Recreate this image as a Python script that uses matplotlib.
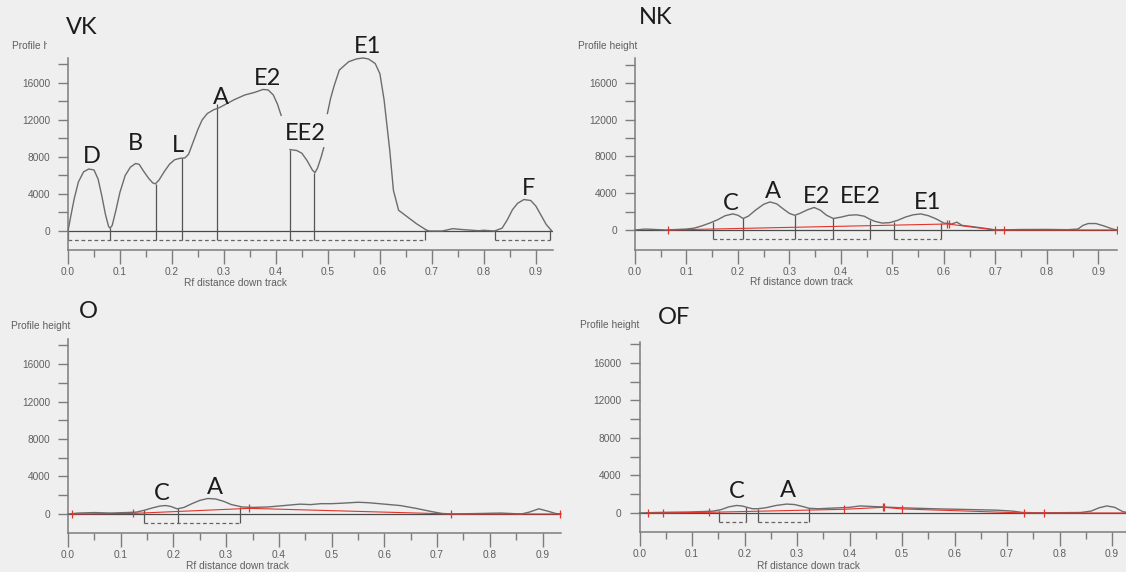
import matplotlib
matplotlib.use("Agg")
import matplotlib.pyplot as plt
import numpy as np
from matplotlib.patches import Rectangle

nan = np.nan

# ---- VK lane ----
vk_x = [0.0, 0.005, 0.012, 0.02, 0.03, 0.04, 0.05, 0.058, 0.065, 0.072, 0.078, 0.081,
        0.085, 0.092, 0.1, 0.11, 0.12, 0.13, 0.137, 0.145, 0.155, 0.163, 0.168, 0.175,
        0.185, 0.195, 0.205, 0.215, 0.225, 0.232, 0.24, 0.25, 0.258, 0.268, 0.28, 0.29,
        0.30, 0.32, 0.34, 0.36, 0.375, 0.385, 0.395, 0.403, 0.41, nan,
        0.427, 0.44, 0.45, 0.46, 0.47, 0.475, 0.48, 0.487, 0.492, nan,
        0.499, 0.505, 0.512, 0.522, 0.54, 0.555, 0.567, 0.578, 0.591, 0.60, 0.608, 0.619,
        0.626, 0.636, 0.653, 0.67, 0.688, 0.695, 0.72, 0.74, 0.76, 0.79, 0.80, 0.82,
        0.835, 0.845, 0.855, 0.865, 0.877, 0.89, 0.90, 0.91, 0.92, 0.93]
vk_y = [0, 1500, 3500, 5300, 6400, 6700, 6600, 5600, 3800, 1800, 500, 300,
        600, 2200, 4200, 6000, 6900, 7300, 7200, 6500, 5700, 5200, 5100, 5500,
        6400, 7200, 7700, 7850, 7900, 8300, 9500, 11000, 12000, 12700, 13100, 13300,
        13600, 14200, 14700, 15000, 15300, 15250, 14700, 13700, 12500, nan,
        8800, 8700, 8400, 7600, 6600, 6300, 6800, 8000, 9000, nan,
        12700, 14300, 15700, 17400, 18300, 18600, 18700, 18600, 18100, 17000, 14200, 8700,
        4400, 2240, 1520, 800, 150, 0, 0, 250, 150, 30, 80, 0,
        300, 1200, 2300, 3000, 3400, 3300, 2700, 1700, 700, 50]
vk_cuts = [0.0, 0.08, 0.169, 0.22, 0.287, 0.427, 0.474, 0.686, 0.821, 0.928]
vk_cut_top = [0, 300, 5100, 7900, 13700, 8800, 6300, 100, 0, 100]
vk_runs = [(0.0, 0.686), (0.821, 0.928)]
vk_names = ["D", "B", "L", "A", "E2", "EE2", "E1", "F"]
vk_name_x = [0.046, 0.13, 0.211, 0.295, 0.383, 0.457, 0.576, 0.886]
vk_name_y = [8020, 9460, 9280, 14450, 16510, 10540, 19930, 4590]

# ---- NK lane ----
nk_x = [0.0, 0.02, 0.04, 0.06, 0.08, 0.1, 0.115, 0.13, 0.145, 0.16, 0.175, 0.19, 0.2,
        0.21, 0.22, 0.235, 0.25, 0.262, 0.275, 0.29, 0.30, 0.31, 0.32, 0.335, 0.348,
        0.36, 0.372, 0.385, 0.40, 0.415, 0.43, 0.445, 0.455, 0.465, 0.48, 0.495, 0.51,
        0.525, 0.54, 0.555, 0.57, 0.585, 0.60, 0.615, 0.625, 0.635, 0.65, 0.67, 0.69,
        0.70, 0.75, 0.80, 0.84, 0.86, 0.87, 0.88, 0.895, 0.91, 0.925, 0.935]
nk_y = [0, 100, 50, 0, 50, 100, 200, 450, 750, 1100, 1550, 1750, 1600,
        1250, 1500, 2200, 2800, 3050, 2850, 2200, 1800, 1600, 1800, 2200, 2450,
        2150, 1600, 1250, 1400, 1600, 1650, 1500, 1200, 950, 750, 800, 1050,
        1400, 1650, 1750, 1550, 1200, 750, 650, 850, 500, 400, 250, 100,
        0, 50, 60, 30, 100, 500, 700, 700, 450, 150, 0]
nk_cuts = [0.152, 0.21, 0.31, 0.384, 0.457, 0.503, 0.594]
nk_cut_top = [900, 1250, 1600, 1300, 1100, 850, 800]
nk_runs = [(0.152, 0.457), (0.503, 0.594)]
nk_base_x = [0.065, 0.606, 0.609, 0.699, 0.716, 0.935]
nk_base_y = [0, 650, 640, 0, 0, 0]
nk_names = ["C", "A", "E2", "EE2", "E1"]
nk_name_x = [0.1855, 0.267, 0.352, 0.438, 0.568]
nk_name_y = [2900, 4170, 3630, 3630, 2975]

# ---- O lane ----
o_x = [0.0, 0.02, 0.05, 0.08, 0.11, 0.13, 0.145, 0.16, 0.175, 0.185, 0.195, 0.207,
       0.22, 0.235, 0.25, 0.265, 0.28, 0.295, 0.31, 0.33, 0.35, 0.38, 0.40, 0.42,
       0.44, 0.46, 0.48, 0.50, 0.52, 0.55, 0.57, 0.60, 0.63, 0.66, 0.69, 0.71, 0.73,
       0.78, 0.82, 0.86, 0.875, 0.893, 0.91, 0.925, 0.935]
o_y = [0, 100, 150, 100, 150, 200, 400, 650, 850, 900, 800, 550,
       700, 1100, 1450, 1650, 1600, 1350, 1000, 750, 700, 750, 850, 950,
       1050, 1000, 1100, 1100, 1150, 1250, 1200, 1050, 900, 600, 250, 50, 0,
       50, 100, 0, 200, 550, 300, 50, 0]
o_cuts = [0.145, 0.208, 0.327]
o_cut_top = [400, 600, 780]
o_runs = [(0.145, 0.327)]
o_base_x = [0.008, 0.123, 0.344, 0.726, 0.933]
o_base_y = [0, 60, 600, 0, 0]
o_names = ["C", "A"]
o_name_x = [0.177, 0.278]
o_name_y = [2200, 2840]

# ---- OF lane ----
of_x = [0.0, 0.03, 0.06, 0.09, 0.12, 0.14, 0.155, 0.17, 0.185, 0.195, 0.205, 0.215,
        0.225, 0.24, 0.26, 0.28, 0.295, 0.31, 0.323, 0.34, 0.36, 0.38, 0.40, 0.42,
        0.44, 0.46, 0.48, 0.50, 0.53, 0.56, 0.60, 0.64, 0.68, 0.71, 0.73, 0.76, 0.80,
        0.84, 0.86, 0.875, 0.89, 0.905, 0.92, 0.935]
of_y = [0, 50, 80, 100, 150, 200, 350, 650, 800, 750, 600, 450,
        450, 550, 800, 950, 900, 700, 500, 450, 500, 550, 600, 750,
        700, 650, 600, 550, 500, 450, 400, 350, 300, 200, 50, 20, 30,
        50, 200, 550, 750, 600, 150, 0]
of_cuts = [0.151, 0.203, 0.225, 0.323]
of_cut_top = [250, 650, 450, 500]
of_runs = [(0.151, 0.203), (0.225, 0.323)]
of_base_x = [0.016, 0.045, 0.132, 0.389, 0.463, 0.466, 0.5, 0.733, 0.771, 0.935]
of_base_y = [0, 0, 70, 390, 600, 600, 430, 0, 0, 0]
of_names = ["C", "A"]
of_name_x = [0.185, 0.282]
of_name_y = [2275, 2350]

W, H = 1126, 572
BG = "#efefef"
GREY_TXT = "#5f5f5f"
BIG = "Lato"
SMALL = "Liberation Sans"

fig = plt.figure(figsize=(W / 100, H / 100), dpi=100, facecolor=BG)


def px(x, y):
    return x / W, 1 - y / H


def panel(left, top, right, bottom, xmax, ylim, xs, ys, cuts, cut_top, runs,
          base_x, base_y, names, name_x, name_y):
    ax = fig.add_axes([left / W, 1 - bottom / H, (right - left) / W, (bottom - top) / H])
    ax.set_facecolor("none")
    ax.set_xlim(0, xmax)
    ax.set_ylim(*ylim)
    for s in ["top", "right"]:
        ax.spines[s].set_visible(False)
    for s in ["left", "bottom"]:
        ax.spines[s].set_color("#7d7d7d")
        ax.spines[s].set_linewidth(1.1)
    ax.axhline(0, color="#4a4a4a", lw=0.9, zorder=1)
    ax.plot(xs, ys, color="#6c6c6c", lw=1.0, zorder=3, clip_on=False)
    if base_x is not None:
        ax.plot(base_x, base_y, color="#e3342c", lw=0.8, marker="|", ms=6, mew=0.9, zorder=4)
    ax.vlines(cuts, -1000, cut_top, color="#555555", lw=0.9, zorder=2)
    for a, b in runs:
        ax.plot([a, b], [-1000, -1000], color="#666666", lw=0.9, ls=(0, (3, 2.2)), zorder=2)
    for n, x, y in zip(names, name_x, name_y):
        ax.text(x, y, n, ha="center", va="center", fontsize=17, family=BIG,
                color="#1c1c1c", clip_on=False, zorder=6)

    xt = np.arange(0, 0.95, 0.1)
    ax.set_xticks(xt)
    ax.set_xticklabels([f"{v:.1f}" for v in xt])
    ax.set_xticks(np.arange(0.05, 0.95, 0.1), minor=True)
    ax.set_yticks([0, 4000, 8000, 12000, 16000])
    ax.set_yticks([2000, 6000, 10000, 14000, 18000], minor=True)
    ax.tick_params(axis="x", which="major", length=10, width=1, color="#7d7d7d",
                   labelsize=7.3, labelcolor=GREY_TXT, pad=2.5)
    ax.tick_params(axis="x", which="minor", length=5, width=1, color="#7d7d7d")
    ax.tick_params(axis="y", which="both", length=7, width=1, color="#7d7d7d",
                   labelsize=7.3, labelcolor=GREY_TXT, pad=6)
    for lab in ax.get_xticklabels() + ax.get_yticklabels():
        lab.set_family(SMALL)
    return ax


panel(68, 58, 553, 250, 0.933, (-2054, 18700), vk_x, vk_y, vk_cuts, vk_cut_top,
      vk_runs, None, None, vk_names, vk_name_x, vk_name_y)
panel(635, 58, 1116.5, 250, 0.935, (-2180, 18720), nk_x, nk_y, nk_cuts, nk_cut_top,
      nk_runs, nk_base_x, nk_base_y, nk_names, nk_name_x, nk_name_y)
panel(68, 339, 561, 533, 0.935, (-2030, 18670), o_x, o_y, o_cuts, o_cut_top,
      o_runs, o_base_x, o_base_y, o_names, o_name_x, o_name_y)
panel(639.5, 342, 1130.5, 532, 0.935, (-2030, 18240), of_x, of_y, of_cuts, of_cut_top,
      of_runs, of_base_x, of_base_y, of_names, of_name_x, of_name_y)

# axis captions
for (x, y) in [(12, 46), (578, 46), (11, 326), (580, 325)]:
    fig.text(*px(x, y), "Profile height", ha="left", va="center", fontsize=7.3,
             family=SMALL, color=GREY_TXT)
for (x, y) in [(235, 283), (801, 282), (237, 566), (808, 566)]:
    fig.text(*px(x, y), "Rf distance down track", ha="center", va="center", fontsize=7.3,
             family=SMALL, color=GREY_TXT)

# pasted label box over the first caption
fig.patches.append(Rectangle(px(47, 56), 60 / W, 50 / H, transform=fig.transFigure,
                             facecolor=BG, edgecolor="none", zorder=5))

for (x, y, t) in [(66, 28, "VK"), (639, 18, "NK"), (79, 312, "O"), (658, 317, "OF")]:
    fig.text(*px(x, y), t, ha="left", va="center", fontsize=17, family=BIG,
             color="#1c1c1c", zorder=6)

fig.savefig("out.png", dpi=100, facecolor=BG)
